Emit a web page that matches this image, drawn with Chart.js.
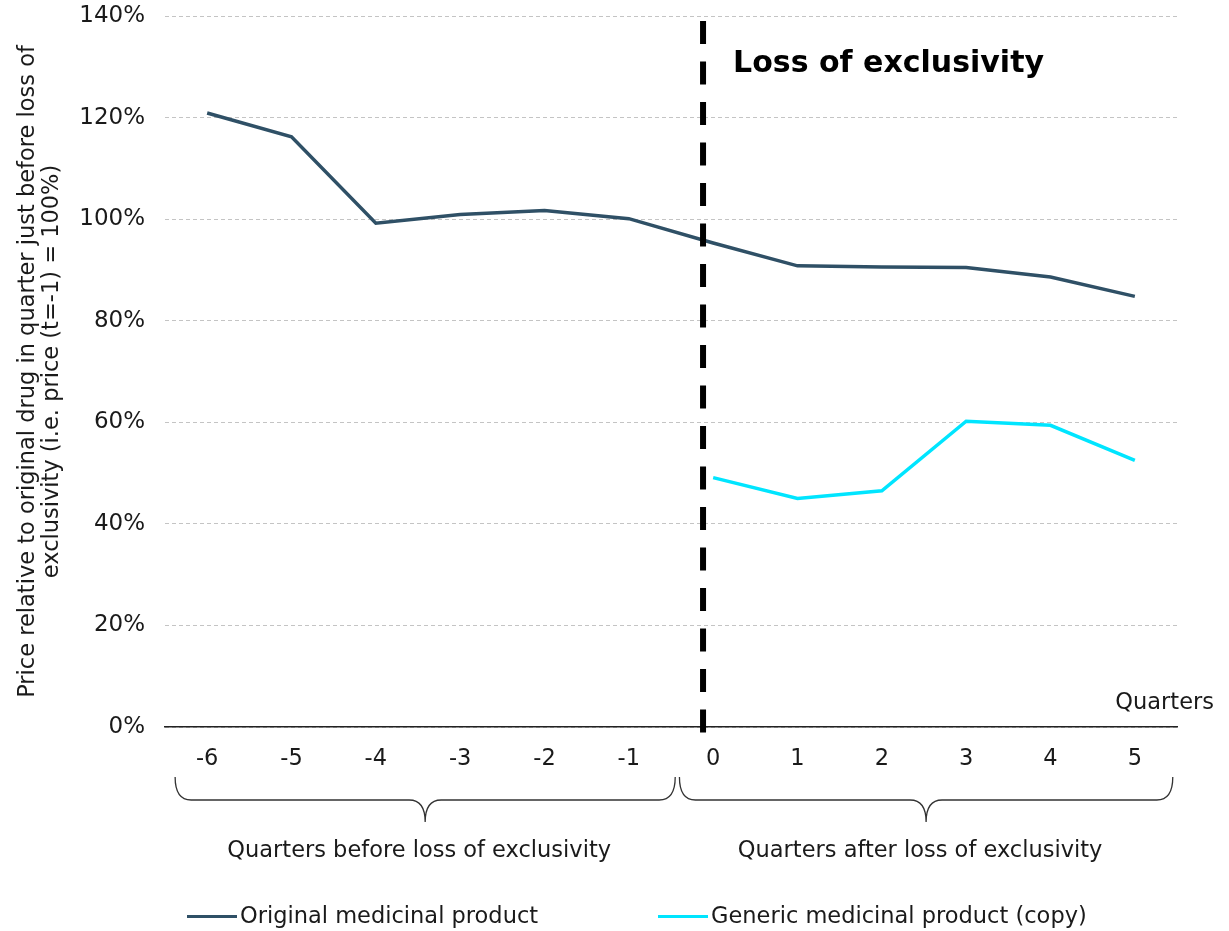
<!DOCTYPE html>
<html>
<head>
<meta charset="utf-8">
<script src="https://cdn.jsdelivr.net/npm/chart.js@4"></script>
<style>
  body { margin: 0; background: #fff; }
  #wrap { position: relative; width: 1229px; height: 931px; }
  #legend {
    position: absolute; left: 0; top: 902px; width: 1229px;
    font: 22.5px "DejaVu Sans", Verdana, sans-serif; color: #1a1a1a;
  }
  .item { position: absolute; top: 0; height: 26px; line-height: 26px; white-space: nowrap; }
  .swatch { display: inline-block; width: 50px; height: 3px; vertical-align: middle; margin-right: 3px; }
</style>
</head>
<body>
<div id="wrap">
  <canvas id="chart" width="1229" height="931"></canvas>
  <div id="legend"></div>
</div>
<script>
// quarters relative to loss of exclusivity
const quarters = ['-6', '-5', '-4', '-3', '-2', '-1', '0', '1', '2', '3', '4', '5'];
// price relative to original drug at t=-1 (percent)
const originalPrice = [120.9, 116.2, 99.2, 100.9, 101.7, 100.1, 95.3, 90.8, 90.6, 90.5, 88.6, 84.8];
const genericPrice = [null, null, null, null, null, null, 49.1, 45.0, 46.5, 60.2, 59.4, 52.5];
const yTicks = [0, 20, 40, 60, 80, 100, 120, 140];

const seriesNames = ['Original medicinal product', 'Generic medicinal product (copy)'];
const seriesColors = ['#2f5066', '#00e5ff'];
const groupLabels = ['Quarters before loss of exclusivity', 'Quarters after loss of exclusivity'];
const lossLabel = 'Loss of exclusivity';

const FONT = '"DejaVu Sans", Verdana, sans-serif';
const FS = 22.5;

// dashed "loss of exclusivity" marker, curly brackets and extra labels
const overlay = {
    id: 'overlay',
    afterDatasetsDraw(chart) {
        const ctx = chart.ctx;
        const x = chart.scales.x;
        const area = chart.chartArea;

        // vertical dashed line just before quarter 0
        const lx = x.getPixelForValue(5.88);
        ctx.save();
        ctx.strokeStyle = '#000';
        ctx.lineWidth = 6;
        ctx.setLineDash([23, 17.5]);
        ctx.beginPath();
        ctx.moveTo(lx, area.top + 5);
        ctx.lineTo(lx, area.bottom + 6);
        ctx.stroke();
        ctx.restore();

        ctx.save();
        ctx.fillStyle = '#000';
        ctx.font = 'bold 30px ' + FONT;
        ctx.textBaseline = 'middle';
        ctx.textAlign = 'left';
        ctx.fillText(lossLabel, lx + 30, area.top + 48);
        ctx.restore();
    },
    afterDraw(chart) {
        const ctx = chart.ctx;
        const x = chart.scales.x;
        const area = chart.chartArea;
        const ranges = [[-0.38, 5.55], [5.6, 11.45]];
        const y0 = area.bottom + 50, y1 = area.bottom + 73, y2 = area.bottom + 95;
        ctx.save();
        ctx.strokeStyle = '#333';
        ctx.lineWidth = 1.3;
        ranges.forEach((r, i) => {
            const a = x.getPixelForValue(r[0]);
            const b = x.getPixelForValue(r[1]);
            const m = (a + b) / 2;
            const rad = 16;
            ctx.beginPath();
            ctx.moveTo(a, y0);
            ctx.quadraticCurveTo(a, y1, a + rad, y1);
            ctx.lineTo(m - rad, y1);
            ctx.quadraticCurveTo(m, y1, m, y2);
            ctx.quadraticCurveTo(m, y1, m + rad, y1);
            ctx.lineTo(b - rad, y1);
            ctx.quadraticCurveTo(b, y1, b, y0);
            ctx.stroke();

            ctx.fillStyle = '#1a1a1a';
            ctx.font = FS + 'px ' + FONT;
            ctx.textAlign = 'center';
            ctx.textBaseline = 'middle';
            ctx.fillText(groupLabels[i], m - 6, area.bottom + 124);
        });
        ctx.textAlign = 'right';
        ctx.fillText('Quarters', area.right + 37, area.bottom - 24);
        ctx.restore();
    }
};

document.addEventListener('DOMContentLoaded', function() {
    const ctx = document.getElementById('chart').getContext('2d');
    new Chart(ctx, {
        type: 'line',
        data: {
            labels: quarters,
            datasets: [{
                label: seriesNames[0],
                data: originalPrice,
                borderColor: seriesColors[0],
                backgroundColor: seriesColors[0],
                borderWidth: 3.5,
                pointRadius: 0,
                tension: 0,
                fill: false
            }, {
                label: seriesNames[1],
                data: genericPrice,
                borderColor: seriesColors[1],
                backgroundColor: seriesColors[1],
                borderWidth: 3.5,
                pointRadius: 0,
                tension: 0,
                fill: false
            }]
        },
        options: {
            responsive: false,
            animation: false,
            layout: { padding: { top: 0, right: 52, left: 0, bottom: 0 } },
            plugins: {
                legend: { display: false },
                tooltip: { enabled: false }
            },
            scales: {
                x: {
                    offset: true,
                    grid: { display: false, drawTicks: false },
                    border: { display: true, color: '#222', width: 1.5 },
                    ticks: { color: '#1a1a1a', font: { family: FONT, size: FS }, padding: 19, maxRotation: 0 },
                    afterFit: function(scale) { scale.height = 204; }
                },
                y: {
                    min: 0,
                    max: 140,
                    afterBuildTicks: function(scale) { scale.ticks = yTicks.map(v => ({ value: v })); },
                    grid: { color: '#c4c4c4', lineWidth: 1, drawTicks: false },
                    border: { display: false, dash: [4, 3] },
                    ticks: {
                        color: '#1a1a1a',
                        font: { family: FONT, size: 23 },
                        padding: 20,
                        callback: v => v + '%'
                    },
                    title: {
                        display: true,
                        text: ['Price relative to original drug in quarter just before loss of',
                               'exclusivity (i.e. price (t=-1) = 100%)'],
                        color: '#1a1a1a',
                        font: { family: FONT, size: FS, lineHeight: 1.07 },
                        padding: { top: 16, bottom: 0 }
                    },
                    afterFit: function(scale) {
                        scale.width = 165;
                        scale.paddingTop = 16;
                        scale.paddingBottom = 0;
                    }
                }
            }
        },
        plugins: [overlay]
    });

    // legend below the chart
    const legend = document.getElementById('legend');
    const lefts = [187, 658];
    seriesNames.forEach((name, i) => {
        const item = document.createElement('div');
        item.className = 'item';
        item.style.left = lefts[i] + 'px';
        item.innerHTML = '<span class="swatch" style="background:' + seriesColors[i] + '"></span>' + name;
        legend.appendChild(item);
    });
});
</script>
</body>
</html>
